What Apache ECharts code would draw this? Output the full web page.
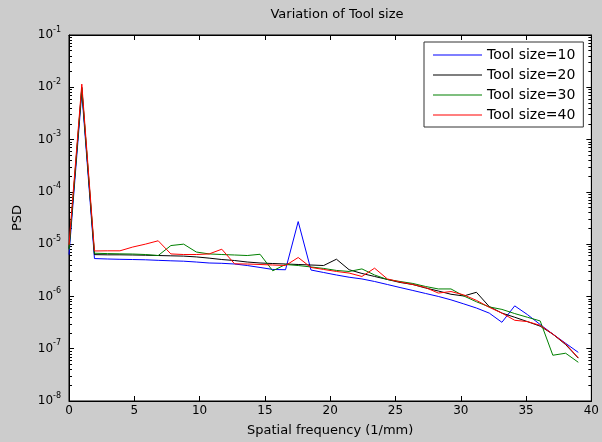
<!DOCTYPE html>
<html><head><meta charset="utf-8">
<script src="https://cdn.jsdelivr.net/npm/echarts@6/dist/echarts.min.js"></script>
<style>html,body{margin:0;padding:0;background:#cccccc}#c{width:602px;height:442px}</style>
</head><body><div id="c"></div>
<script>
// Spatial frequency samples (1/mm)
const freq = [0, 0.98, 1.95, 2.93, 3.9, 4.88, 5.85, 6.83, 7.8, 8.78, 9.75, 10.73, 11.7, 12.68, 13.65, 14.63, 15.6, 16.58, 17.55, 18.53, 19.5, 20.48, 21.45, 22.43, 23.4, 24.38, 25.35, 26.33, 27.3, 28.28, 29.25, 30.23, 31.2, 32.18, 33.15, 34.13, 35.1, 36.08, 37.05, 38.03, 39];
const toolSize10 = [6.3e-6, 8.0e-3, 5.3e-6, 5.2e-6, 5.13e-6, 5.08e-6, 5.02e-6, 4.9e-6, 4.8e-6, 4.72e-6, 4.55e-6, 4.36e-6, 4.3e-6, 4.17e-6, 3.9e-6, 3.58e-6, 3.28e-6, 3.24e-6, 2.7e-5, 3.2e-6, 2.87e-6, 2.57e-6, 2.33e-6, 2.16e-6, 1.93e-6, 1.69e-6, 1.48e-6, 1.3e-6, 1.14e-6, 1.0e-6, 8.6e-7, 7.2e-7, 6.0e-7, 4.8e-7, 3.2e-7, 6.6e-7, 4.5e-7, 2.9e-7, 1.9e-7, 1.27e-7, 8.5e-8];
const toolSize20 = [8.2e-6, 1.0e-2, 6.3e-6, 6.25e-6, 6.25e-6, 6.2e-6, 6.14e-6, 6.06e-6, 5.98e-6, 5.9e-6, 5.7e-6, 5.4e-6, 5.08e-6, 4.86e-6, 4.55e-6, 4.36e-6, 4.26e-6, 4.17e-6, 4.08e-6, 3.99e-6, 3.9e-6, 5.15e-6, 3.24e-6, 2.75e-6, 2.41e-6, 2.11e-6, 1.85e-6, 1.69e-6, 1.45e-6, 1.27e-6, 1.1e-6, 1.02e-6, 1.2e-6, 6.4e-7, 4.8e-7, 4.0e-7, 3.3e-7, 2.7e-7, 1.9e-7, 1.2e-7, 6.6e-8];
const toolSize30 = [7.9e-6, 9.5e-3, 6.7e-6, 6.6e-6, 6.53e-6, 6.47e-6, 6.33e-6, 6.06e-6, 9.4e-6, 1.0e-5, 7.07e-6, 6.5e-6, 6.33e-6, 6.2e-6, 6.06e-6, 6.4e-6, 3.09e-6, 4.08e-6, 3.9e-6, 3.66e-6, 3.43e-6, 3.14e-6, 3.0e-6, 3.36e-6, 2.57e-6, 2.11e-6, 1.93e-6, 1.77e-6, 1.55e-6, 1.39e-6, 1.39e-6, 1.02e-6, 7.9e-7, 6.3e-7, 5.65e-7, 4.7e-7, 4.0e-7, 3.4e-7, 7.5e-8, 8.2e-8, 5.5e-8];
const toolSize40 = [9.7e-6, 1.15e-2, 7.4e-6, 7.45e-6, 7.45e-6, 8.8e-6, 1.0e-5, 1.16e-5, 6.5e-6, 6.33e-6, 6.33e-6, 6.5e-6, 8.0e-6, 4.2e-6, 4.17e-6, 4.08e-6, 3.99e-6, 3.9e-6, 5.55e-6, 3.58e-6, 3.28e-6, 3.0e-6, 2.8e-6, 2.41e-6, 3.47e-6, 2.16e-6, 1.89e-6, 1.69e-6, 1.48e-6, 1.16e-6, 1.24e-6, 1.07e-6, 8.4e-7, 6.2e-7, 4.8e-7, 3.5e-7, 3.3e-7, 2.8e-7, 1.9e-7, 1.24e-7, 6.7e-8];
const seriesNames = ['Tool size=10', 'Tool size=20', 'Tool size=30', 'Tool size=40'];
const seriesColors = ['#0000ff', '#000000', '#008000', '#ff0000'];
const xTickValues = [0, 5, 10, 15, 20, 25, 30, 35, 40];
const yExponents = [-8, -7, -6, -5, -4, -3, -2, -1];

const FONT = 'DejaVu Sans';
const minorTicks = [];
yExponents.slice(0, -1).forEach(function (e) {
  for (let m = 2; m <= 9; m++) minorTicks.push(m * Math.pow(10, e));
});

const allSeries = [toolSize10, toolSize20, toolSize30, toolSize40];
const chart = echarts.init(document.getElementById('c'), null, {renderer: 'canvas'});

function yAxisBase(pos, isMinor, showLabel) {
  return {
    type: 'log', logBase: 10,
    min: Math.pow(10, yExponents[0]), max: Math.pow(10, yExponents[yExponents.length - 1]),
    splitNumber: 7,
    position: pos,
    axisLine: {show: !isMinor, lineStyle: {color: '#000', width: 1}},
    axisTick: isMinor
      ? {show: true, inside: true, length: 3, customValues: minorTicks, lineStyle: {color: '#000'}}
      : {show: true, inside: true, length: 5, lineStyle: {color: '#000'}},
    splitLine: {show: false},
    minorTick: {show: false},
    axisLabel: showLabel ? {
      show: true, margin: 8,
      formatter: function (v) {
        const e = Math.round(Math.log10(v));
        return '{b|10}{s|' + e + '}';
      },
      rich: {
        b: {fontFamily: FONT, fontSize: 12, color: '#000'},
        s: {fontFamily: FONT, fontSize: 8, color: '#000', padding: [0, 0, 11, 0]}
      }
    } : {show: false}
  };
}

const yMain = yAxisBase('left', false, true);
yMain.name = 'PSD';
yMain.nameLocation = 'middle';
yMain.nameGap = 45;
yMain.nameTextStyle = {fontFamily: FONT, fontSize: 13, color: '#000'};

function xAxisBase(pos, showLabel) {
  return {
    type: 'value', min: xTickValues[0], max: xTickValues[xTickValues.length - 1],
    interval: xTickValues[1] - xTickValues[0],
    position: pos,
    axisLine: {show: true, onZero: false, lineStyle: {color: '#000', width: 1}},
    axisTick: {show: true, inside: true, length: 5, lineStyle: {color: '#000'}},
    splitLine: {show: false},
    axisLabel: showLabel ? {show: true, margin: 4, fontFamily: FONT, fontSize: 12, color: '#000', showMaxLabel: true, showMinLabel: true} : {show: false}
  };
}
const xMain = xAxisBase('bottom', true);
xMain.name = 'Spatial frequency (1/mm)';
xMain.nameLocation = 'middle';
xMain.nameGap = 23;
xMain.nameTextStyle = {fontFamily: FONT, fontSize: 13, color: '#000'};

chart.setOption({
  animation: false,
  backgroundColor: '#cccccc',
  title: {
    text: 'Variation of Tool size', left: 332, top: 3, textAlign: 'center',
    textStyle: {fontFamily: FONT, fontSize: 13, fontWeight: 'normal', color: '#000'}
  },
  grid: {left: 69, right: 7, top: 35, bottom: 37, show: true, backgroundColor: '#ffffff', borderColor: '#000', borderWidth: 1, containLabel: false},
  legend: {
    orient: 'vertical', left: 424, top: 42,
    icon: 'rect',
    itemWidth: 49, itemHeight: 1, itemGap: 6,
    padding: [6, 8, 5, 9],
    backgroundColor: '#ffffff', borderColor: '#333', borderWidth: 1, borderRadius: 0,
    textStyle: {fontFamily: FONT, fontSize: 14, lineHeight: 14, color: '#000'},
    data: seriesNames.map(function (n, k) {
      return {name: n, itemStyle: {color: seriesColors[k], borderWidth: 0}};
    })
  },
  xAxis: [xMain, xAxisBase('top', false)],
  yAxis: [yMain, yAxisBase('left', true, false), yAxisBase('right', false, false), yAxisBase('right', true, false)],
  series: seriesNames.map(function (name, k) {
    return {
      name: name, type: 'line', xAxisIndex: 0, yAxisIndex: 0,
      symbol: 'none', showSymbol: false,
      lineStyle: {width: 1, color: seriesColors[k]},
      itemStyle: {color: seriesColors[k]},
      data: freq.map(function (x, i) { return [x, allSeries[k][i]]; })
    };
  })
});
</script></body></html>
